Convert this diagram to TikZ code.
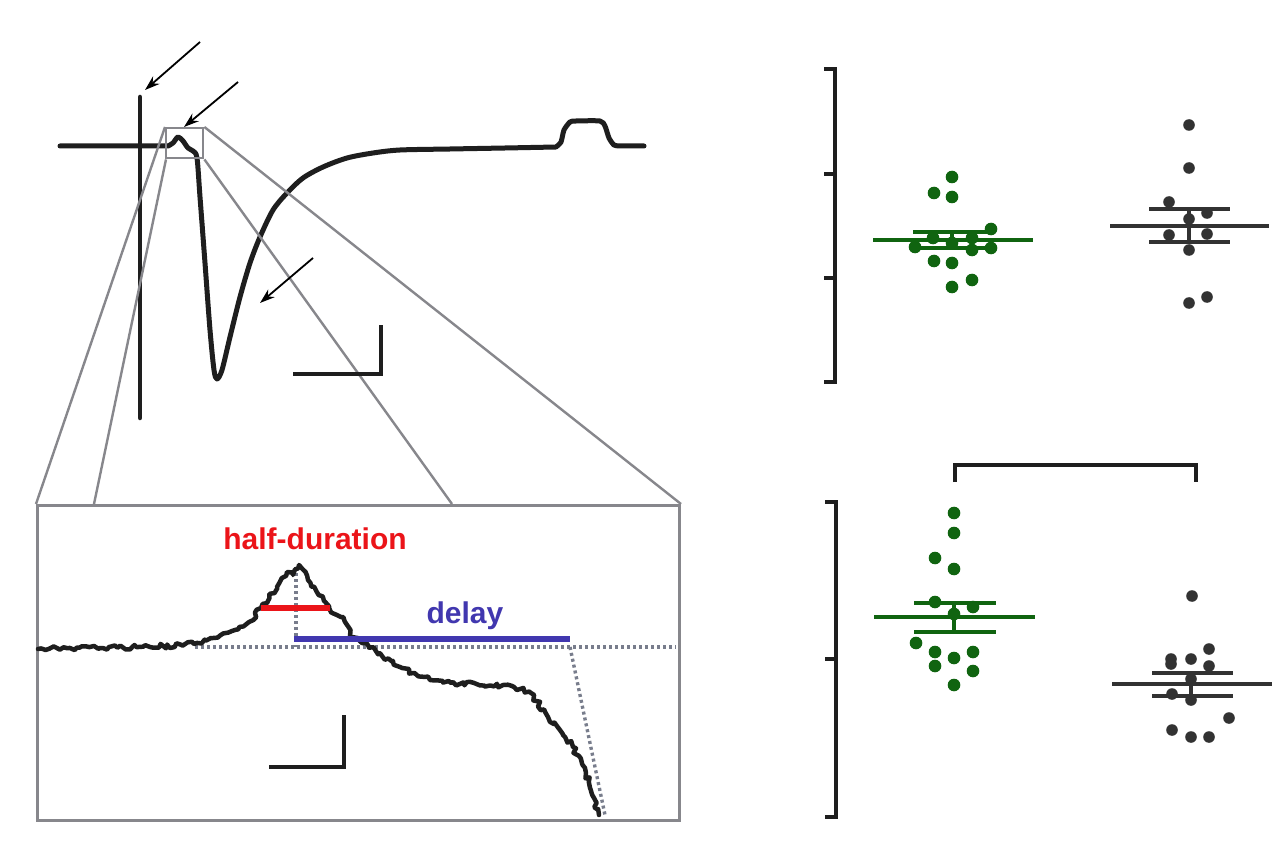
\documentclass[tikz,border=0pt]{standalone}
\usepackage{fontspec}
\setmainfont{Liberation Sans}
\usetikzlibrary{arrows.meta,decorations.pathmorphing}
\definecolor{dotgreen}{RGB}{16,100,16}
\definecolor{dotblack}{RGB}{50,50,50}
\definecolor{axisblack}{RGB}{30,30,30}
\definecolor{zoomgray}{RGB}{135,135,140}
\definecolor{dotgray}{RGB}{120,125,140}
\definecolor{hdred}{RGB}{235,20,25}
\definecolor{dlblue}{RGB}{65,55,175}
\begin{document}
\begin{tikzpicture}[x=1pt,y=-1pt,
  trace/.style={line width=5pt,color=axisblack,line join=round,line cap=round},
  zoomline/.style={line width=2.4pt,color=zoomgray},
  pointer/.style={line width=1.8pt,black,-{Stealth[length=15pt,width=10pt]}},
  scalebar/.style={line width=4.5pt,axisblack,line join=miter},
  axisline/.style={line width=4pt,axisblack},
  guide/.style={line width=3.4pt,dotgray,dash pattern=on 3pt off 3pt},
  meanG/.style={line width=3.5pt,dotgreen},
  meanK/.style={line width=3.5pt,dotblack},
  lbl/.style={font=\fontsize{30}{36}\selectfont\bfseries,inner sep=0pt,anchor=base}]
\useasboundingbox (0,0) rectangle (1280,842);
\fill[white] (0,0) rectangle (1280,842);

% ---------- top trace ----------
\draw[trace,line width=4.5pt] (140,97) -- (140,418);
\draw[trace] (60,146) -- (168,146)
  -- plot[smooth,tension=0.5] coordinates {(168,146) (173,143) (178,137) (183,141) (188,148) (193,151) (197,158)
   (200,197) (205,263) (210,330) (214,370) (217,379) (222,370) (230,337) (240,297) (250,263) (260,237)
   (273,210) (287,193) (303,178) (323,167) (347,158) (373,153) (400,150) (450,149) (505,148) (556,147)}
  -- plot[smooth,tension=0.4] coordinates {(556,147) (561,142) (564,130) (570,122) (576,121) (600,121) (605,126) (609,138) (614,145) (620,146)}
  -- (644,146);

% zoom box and perspective lines
\node[draw=zoomgray,line width=2.4pt,minimum width=37pt,minimum height=30pt,inner sep=0pt,anchor=north west] (zbox) at (165,127) {};
\node[draw=zoomgray,line width=3pt,minimum width=642pt,minimum height=315pt,inner sep=0pt,anchor=north west] (inset) at (36,504) {};
\coordinate (i2) at (94,504);
\coordinate (i3) at (452,504);
\draw[zoomline] (zbox.north west) -- (inset.north west);
\draw[zoomline] ([xshift=1pt]zbox.south west) -- (i2);
\draw[zoomline] (zbox.south east) -- (i3);
\draw[zoomline] (zbox.north east) -- (inset.north east);

% arrows
\coordinate (a1s) at (200,42);  \coordinate (a1e) at (145,90);
\coordinate (a2s) at (238,82);  \coordinate (a2e) at (184,127);
\coordinate (a3s) at (313,258); \coordinate (a3e) at (260,303);
\draw[pointer] (a1s) -- (a1e);
\draw[pointer] (a2s) -- (a2e);
\draw[pointer] (a3s) -- (a3e);

% scale bar top
\draw[scalebar] (293,374) -- (381,374) -- (381,325);

% ---------- inset ----------
\draw[guide] (195,647) -- (676,647);
\draw[guide] (296,567) -- (296,647);
\draw[guide] (570,647) -- (605,815);
\pgfmathsetseed{7}
\draw[trace,line width=4.5pt,decorate,decoration={random steps,segment length=3.5pt,amplitude=2.4pt}]
  (38,649) -- (100,648) -- (150,647) -- (194,644) -- (211,638) -- (232,631) -- (249,622) -- (261,608)
  -- (287,572) -- (293,575) -- (299,565) -- (308,580) -- (329,608) -- (341,617) -- (352,637) -- (362,643)
  -- (379,653) -- (400,667) -- (430,680) -- (451,683) -- (514,687) -- (531,693) -- (548,717) -- (560,730)
  -- (573,747) -- (586,773) -- (594,798) -- (599,815);
\draw[line width=5.5pt,hdred] (261,608) -- (330,608);
\draw[line width=6pt,dlblue] (294,639) -- (570,639);
\node[lbl,text=hdred] (hd) at (315,549) {half-duration};
\node[lbl,text=dlblue] (dl) at (465,623) {delay};
\draw[scalebar] (269,767) -- (344,767) -- (344,715);

% ---------- top scatter ----------
\draw[axisline] (824,69) -- (835,69) -- (835,382) -- (824,382);
\draw[axisline] (824,174) -- (835,174);
\draw[axisline] (824,278) -- (835,278);
\foreach \p in {(952,177),(934,193),(952,197),(991,229),(933,238),(972,238),(952,243),(915,247),(972,250),(991,248),(934,261),(952,263),(972,280),(952,287)}
  \fill[dotgreen] \p circle (6.3);
\draw[meanG] (873,240) -- (1033,240);
\draw[meanG] (913,232) -- (990,232);
\draw[meanG] (911,248) -- (992,248);
\draw[meanG] (952,232) -- (952,248);
\foreach \p in {(1189,125),(1189,168),(1169,202),(1207,213),(1189,219),(1169,235),(1207,234),(1189,250),(1207,297),(1189,303)}
  \fill[dotblack] \p circle (5.8);
\draw[meanK] (1110,226) -- (1269,226);
\draw[meanK] (1149,209) -- (1230,209);
\draw[meanK] (1149,242) -- (1230,242);
\draw[meanK] (1189,209) -- (1189,242);

% ---------- bottom scatter ----------
\draw[line width=4.5pt,axisblack] (955,482) -- (955,465) -- (1196,465) -- (1196,482);
\draw[axisline] (825,502) -- (836,502) -- (836,817) -- (825,817);
\draw[axisline] (825,659) -- (836,659);
\foreach \p in {(954,513),(954,533),(935,558),(954,569),(935,602),(973,607),(954,614),(916,643),(935,652),(973,652),(954,658),(935,666),(973,671),(954,685)}
  \fill[dotgreen] \p circle (6.3);
\draw[meanG] (874,617) -- (1035,617);
\draw[meanG] (914,603) -- (996,603);
\draw[meanG] (914,632) -- (996,632);
\draw[meanG] (954,603) -- (954,632);
\foreach \p in {(1192,596),(1209,649),(1171,659),(1171,664),(1191,659),(1209,666),(1191,679),(1172,694),(1191,700),(1229,718),(1172,730),(1191,737),(1209,737)}
  \fill[dotblack] \p circle (5.8);
\draw[meanK] (1112,684) -- (1272,684);
\draw[meanK] (1152,673) -- (1233,673);
\draw[meanK] (1152,696) -- (1233,696);
\draw[meanK] (1191,673) -- (1191,696);
\end{tikzpicture}
\end{document}
